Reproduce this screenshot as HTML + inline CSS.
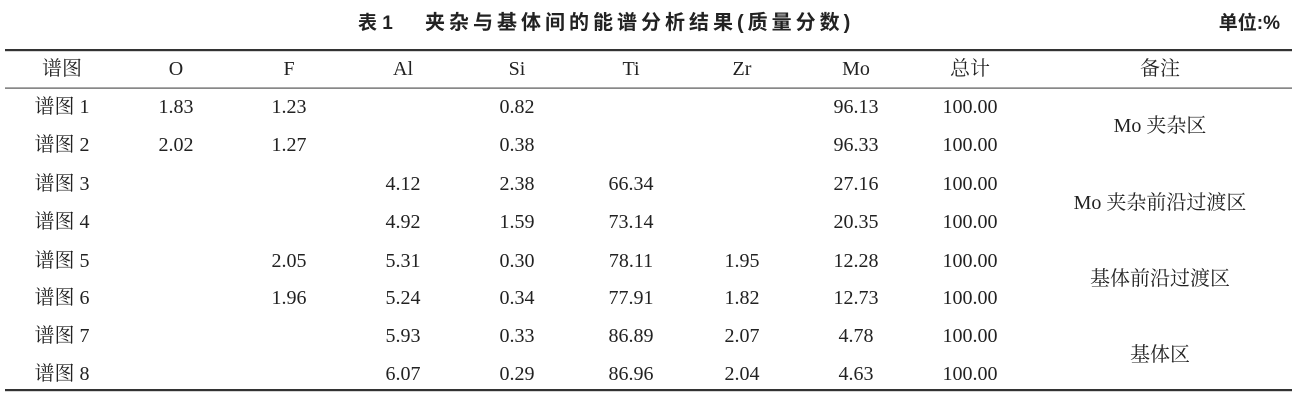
<!DOCTYPE html>
<html><head><meta charset="utf-8"><style>
html,body{margin:0;padding:0;background:#fff;}
svg{display:block;}
.t{font-family:"Liberation Serif","Noto Serif CJK SC",serif;font-size:20px;fill:#222;text-anchor:middle;}
.h{font-family:"Liberation Sans","Noto Sans CJK SC",sans-serif;font-size:19px;font-weight:bold;fill:#222;}
</style></head><body>
<svg width="1296" height="401" xmlns="http://www.w3.org/2000/svg">
<text class="h" x="358" y="29">表 1</text>
<text class="h" x="425" y="29" style="letter-spacing:4px;font-size:20px">夹杂与基体间的能谱分析结果(质量分数)</text>
<text class="h" x="1280" y="29" text-anchor="end">单位:%</text>
<rect x="5" y="49" width="1287" height="2.2" fill="#333"/>
<rect x="5" y="87.5" width="1287" height="1.2" fill="#555"/>
<rect x="5" y="389" width="1287" height="2.2" fill="#333"/>
<g class="t">
<text x="62" y="75">谱图</text><text x="176" y="75">O</text><text x="289" y="75">F</text><text x="403" y="75">Al</text><text x="517" y="75">Si</text><text x="631" y="75">Ti</text><text x="742" y="75">Zr</text><text x="856" y="75">Mo</text><text x="970" y="75">总计</text><text x="1160" y="75">备注</text>

<text x="62" y="113">谱图 1</text><text x="176" y="113">1.83</text><text x="289" y="113">1.23</text><text x="517" y="113">0.82</text><text x="856" y="113">96.13</text><text x="970" y="113">100.00</text>
<text x="62" y="151">谱图 2</text><text x="176" y="151">2.02</text><text x="289" y="151">1.27</text><text x="517" y="151">0.38</text><text x="856" y="151">96.33</text><text x="970" y="151">100.00</text>
<text x="62" y="190">谱图 3</text><text x="403" y="190">4.12</text><text x="517" y="190">2.38</text><text x="631" y="190">66.34</text><text x="856" y="190">27.16</text><text x="970" y="190">100.00</text>
<text x="62" y="228">谱图 4</text><text x="403" y="228">4.92</text><text x="517" y="228">1.59</text><text x="631" y="228">73.14</text><text x="856" y="228">20.35</text><text x="970" y="228">100.00</text>
<text x="62" y="267">谱图 5</text><text x="289" y="267">2.05</text><text x="403" y="267">5.31</text><text x="517" y="267">0.30</text><text x="631" y="267">78.11</text><text x="742" y="267">1.95</text><text x="856" y="267">12.28</text><text x="970" y="267">100.00</text>
<text x="62" y="304">谱图 6</text><text x="289" y="304">1.96</text><text x="403" y="304">5.24</text><text x="517" y="304">0.34</text><text x="631" y="304">77.91</text><text x="742" y="304">1.82</text><text x="856" y="304">12.73</text><text x="970" y="304">100.00</text>
<text x="62" y="342">谱图 7</text><text x="403" y="342">5.93</text><text x="517" y="342">0.33</text><text x="631" y="342">86.89</text><text x="742" y="342">2.07</text><text x="856" y="342">4.78</text><text x="970" y="342">100.00</text>
<text x="62" y="380">谱图 8</text><text x="403" y="380">6.07</text><text x="517" y="380">0.29</text><text x="631" y="380">86.96</text><text x="742" y="380">2.04</text><text x="856" y="380">4.63</text><text x="970" y="380">100.00</text>

<text x="1160" y="132">Mo 夹杂区</text>
<text x="1160" y="209">Mo 夹杂前沿过渡区</text>
<text x="1160" y="285">基体前沿过渡区</text>
<text x="1160" y="361">基体区</text>
</g>
</svg>
</body></html>
